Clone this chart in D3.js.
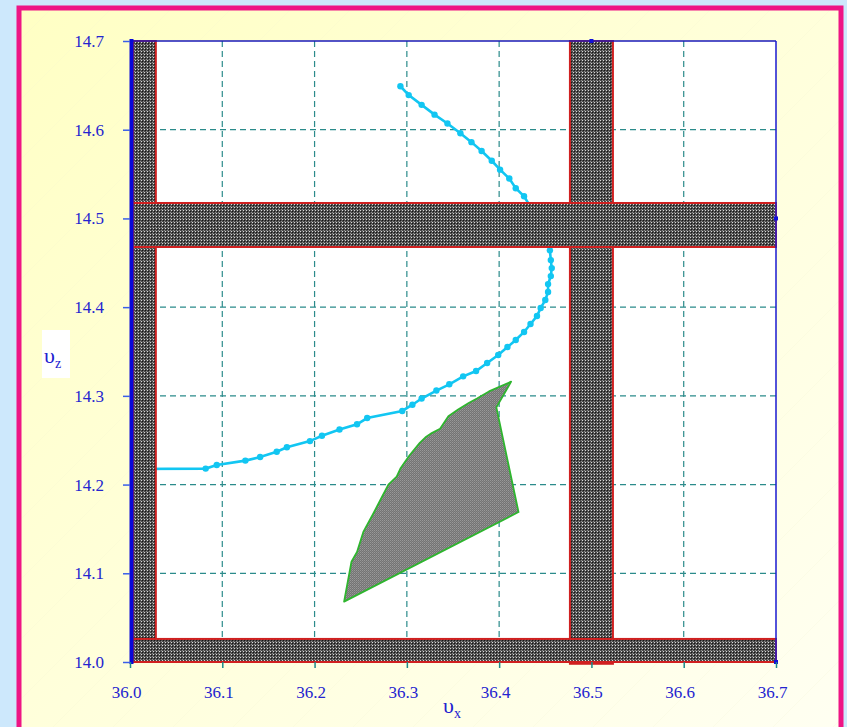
<!DOCTYPE html>
<html>
<head>
<meta charset="utf-8">
<script src="https://cdn.jsdelivr.net/npm/d3@7"></script>
<style>
  html, body { margin: 0; padding: 0; background: #cde8fc; }
  svg { display: block; }
</style>
</head>
<body>
<div id="chart"></div>
<script>
// Axis ticks
const xTicks = [36.0, 36.1, 36.2, 36.3, 36.4, 36.5, 36.6, 36.7];
const yTicks = [14.0, 14.1, 14.2, 14.3, 14.4, 14.5, 14.6, 14.7];

// Trajectory (vx, vz)
const trajX = [36.293, 36.302, 36.316, 36.330, 36.344, 36.358, 36.370, 36.381, 36.392, 36.401,
  36.411, 36.418, 36.427, 36.434, 36.442, 36.449, 36.453, 36.455, 36.456, 36.457, 36.456,
  36.453, 36.453, 36.450, 36.445, 36.441, 36.434, 36.427, 36.418, 36.409, 36.399, 36.387,
  36.375, 36.361, 36.346, 36.332, 36.316, 36.306, 36.295, 36.257, 36.246, 36.227, 36.208,
  36.195, 36.170, 36.159, 36.141, 36.125, 36.094, 36.082, 36.000];
const trajZ = [14.649, 14.639, 14.628, 14.617, 14.607, 14.596, 14.586, 14.576, 14.565, 14.555,
  14.545, 14.534, 14.525, 14.513, 14.501, 14.488, 14.476, 14.464, 14.453, 14.444, 14.435,
  14.426, 14.417, 14.408, 14.399, 14.390, 14.381, 14.372, 14.363, 14.355, 14.346, 14.337,
  14.328, 14.322, 14.313, 14.306, 14.297, 14.290, 14.283, 14.275, 14.268, 14.262, 14.255,
  14.249, 14.242, 14.237, 14.231, 14.227, 14.222, 14.218, 14.2175];

// Reachable region outline (vx, vz)
const regionX = [36.413, 36.389, 36.376, 36.367, 36.356, 36.345, 36.336, 36.327, 36.321, 36.314,
  36.303, 36.293, 36.289, 36.280, 36.273, 36.264, 36.253, 36.246, 36.240, 36.232, 36.421, 36.397];
const regionZ = [14.316, 14.305, 14.297, 14.292, 14.285, 14.277, 14.263, 14.258, 14.254, 14.247,
  14.233, 14.218, 14.209, 14.200, 14.186, 14.168, 14.147, 14.124, 14.113, 14.068, 14.169, 14.287];

// Forbidden bands: [x0, x1, z0, z1]
const bandX0 = [36.003, 36.4767, 36.003, 36.003];
const bandX1 = [36.028, 36.5233, 36.700, 36.700];
const bandZ0 = [14.000, 13.998, 14.4678, 14.000];
const bandZ1 = [14.700, 14.700, 14.5174, 14.026];

const W = 847, H = 727;
const svg = d3.select("#chart").append("svg").attr("width", W).attr("height", H);
const defs = svg.append("defs");

// Panel background gradient
const grad = defs.append("linearGradient").attr("id", "panelGrad")
  .attr("x1", "0").attr("y1", "0").attr("x2", "1").attr("y2", "1");
grad.append("stop").attr("offset", "0").attr("stop-color", "#ffffc4");
grad.append("stop").attr("offset", "1").attr("stop-color", "#fffff2");

// Faint diagonal streaks on panel
const streak = defs.append("pattern").attr("id", "streaks").attr("patternUnits", "userSpaceOnUse")
  .attr("width", 60).attr("height", 60);
streak.append("path").attr("d", "M0,60 L60,0").attr("stroke", "#eeeccc").attr("stroke-width", 0.6).attr("opacity", 0.35);

// Checker fill for bands
const chk = defs.append("pattern").attr("id", "checkDark").attr("patternUnits", "userSpaceOnUse")
  .attr("width", 3).attr("height", 3);
chk.append("rect").attr("width", 3).attr("height", 3).attr("fill", "#4a4a4a");
chk.append("rect").attr("x", 0).attr("y", 0).attr("width", 1).attr("height", 1).attr("fill", "#d8d8d8");
chk.append("rect").attr("x", 1).attr("y", 1).attr("width", 1).attr("height", 1).attr("fill", "#161616");
chk.append("rect").attr("x", 2).attr("y", 2).attr("width", 1).attr("height", 1).attr("fill", "#8c8c8c");

// Finer lighter checker for the region
const chk2 = defs.append("pattern").attr("id", "checkLight").attr("patternUnits", "userSpaceOnUse")
  .attr("width", 2).attr("height", 2);
chk2.append("rect").attr("width", 2).attr("height", 2).attr("fill", "#747474");
chk2.append("rect").attr("x", 0).attr("y", 0).attr("width", 1).attr("height", 1).attr("fill", "#999999");
chk2.append("rect").attr("x", 1).attr("y", 1).attr("width", 1).attr("height", 1).attr("fill", "#888888");

// Outer panel with pink frame
svg.append("rect").attr("x", 19).attr("y", 8).attr("width", 822).attr("height", 730)
  .attr("fill", "url(#panelGrad)");
svg.append("rect").attr("x", 19).attr("y", 8).attr("width", 822).attr("height", 730)
  .attr("fill", "url(#streaks)");
svg.append("rect").attr("x", 19).attr("y", 8).attr("width", 822).attr("height", 730)
  .attr("fill", "none").attr("stroke", "#ee1585").attr("stroke-width", 5);

const x = d3.scaleLinear().domain([36.0, 36.7]).range([130, 776]);
const y = d3.scaleLinear().domain([14.0, 14.7]).range([662, 41]);

// Plot area
svg.append("rect").attr("x", x(36.0)).attr("y", y(14.7))
  .attr("width", x(36.7) - x(36.0)).attr("height", y(14.0) - y(14.7)).attr("fill", "#ffffff");

// Dashed grid
const grid = svg.append("g").attr("stroke", "#2b8b8b").attr("stroke-width", 1.2)
  .attr("stroke-dasharray", "6,4");
grid.selectAll("line.v").data(xTicks.slice(1, -1)).join("line")
  .attr("x1", d => x(d)).attr("x2", d => x(d)).attr("y1", y(14.7)).attr("y2", y(14.0));
grid.selectAll("line.h").data(yTicks.slice(1, -1)).join("line")
  .attr("y1", d => y(d)).attr("y2", d => y(d)).attr("x1", x(36.0)).attr("x2", x(36.7));

// Trajectory
const traj = trajX.map((v, i) => [v, trajZ[i]]);
svg.append("path").datum(traj)
  .attr("d", d3.line().x(d => x(d[0])).y(d => y(d[1])))
  .attr("fill", "none").attr("stroke", "#12c6f2").attr("stroke-width", 2.6);
svg.append("g").selectAll("circle").data(traj.slice(0, -1)).join("circle")
  .attr("cx", d => x(d[0])).attr("cy", d => y(d[1])).attr("r", 3.2)
  .attr("fill", "#12c6f2");

// Region
const region = regionX.map((v, i) => [v, regionZ[i]]);
svg.append("path").datum(region)
  .attr("d", d3.line().x(d => x(d[0])).y(d => y(d[1])).curve(d3.curveLinearClosed))
  .attr("fill", "url(#checkLight)").attr("stroke", "#2eb52e").attr("stroke-width", 1.8)
  .attr("stroke-linejoin", "round");

// Forbidden bands
svg.append("g").selectAll("rect").data(bandX0.map((v, i) => i)).join("rect")
  .attr("x", i => x(bandX0[i])).attr("width", i => x(bandX1[i]) - x(bandX0[i]))
  .attr("y", i => y(bandZ1[i])).attr("height", i => y(bandZ0[i]) - y(bandZ1[i]))
  .attr("fill", "url(#checkDark)").attr("stroke", "#d02020").attr("stroke-width", 2);

// Frame lines
svg.append("line").attr("x1", x(36.0)).attr("x2", x(36.7)).attr("y1", y(14.7)).attr("y2", y(14.7))
  .attr("stroke", "#1a1ab8").attr("stroke-width", 1.5);
svg.append("line").attr("x1", x(36.7)).attr("x2", x(36.7)).attr("y1", y(14.7)).attr("y2", y(14.0))
  .attr("stroke", "#1a1ad0").attr("stroke-width", 1.5);
svg.append("line").attr("x1", x(36.0) + 1.5).attr("x2", x(36.0) + 1.5).attr("y1", y(14.7) - 2).attr("y2", y(14.0) + 2)
  .attr("stroke", "#0808d8").attr("stroke-width", 4);

// Small markers on secondary axes
const marks = [[36.5, 14.7], [36.7, 14.5], [36.7, 14.0]];
svg.append("g").selectAll("rect").data(marks).join("rect")
  .attr("x", d => x(d[0]) - 2).attr("y", d => y(d[1]) - 2).attr("width", 4).attr("height", 4)
  .attr("fill", "#1010d8");

// Axes
const font = "'Liberation Serif', 'Times New Roman', serif";
const xAxis = svg.append("g").attr("transform", `translate(0,${y(14.0)})`)
  .call(d3.axisBottom(x).tickValues(xTicks).tickFormat(d3.format(".1f")).tickSize(6).tickSizeOuter(0));
xAxis.select(".domain").remove();
xAxis.selectAll(".tick line").attr("stroke", "#1a8a8a").attr("stroke-width", 1.5);
xAxis.selectAll(".tick text").attr("y", 24).attr("dx", -4)
  .attr("fill", "#2424d0").style("font-family", font).style("font-size", "17px");

const yAxis = svg.append("g").attr("transform", `translate(${x(36.0)},0)`)
  .call(d3.axisLeft(y).tickValues(yTicks).tickFormat(d3.format(".1f")).tickSize(7).tickSizeOuter(0));
yAxis.select(".domain").remove();
yAxis.selectAll(".tick line").attr("stroke", "#3a5ee8").attr("stroke-width", 1.5);
yAxis.selectAll(".tick text").attr("x", -26)
  .attr("fill", "#2424d0").style("font-family", font).style("font-size", "17px");

// Axis titles
const xt = svg.append("text").attr("x", 443).attr("y", 713)
  .attr("fill", "#2222d0").style("font-family", font).style("font-size", "22px");
xt.append("tspan").text("υ");
xt.append("tspan").attr("dy", 5).style("font-size", "14px").text("x");

svg.append("rect").attr("x", 42).attr("y", 330).attr("width", 28).attr("height", 48).attr("fill", "#ffffff");
const yt = svg.append("text").attr("x", 44).attr("y", 363)
  .attr("fill", "#2222d0").style("font-family", font).style("font-size", "22px");
yt.append("tspan").text("υ");
yt.append("tspan").attr("dy", 5).style("font-size", "14px").text("z");
</script>
</body>
</html>
